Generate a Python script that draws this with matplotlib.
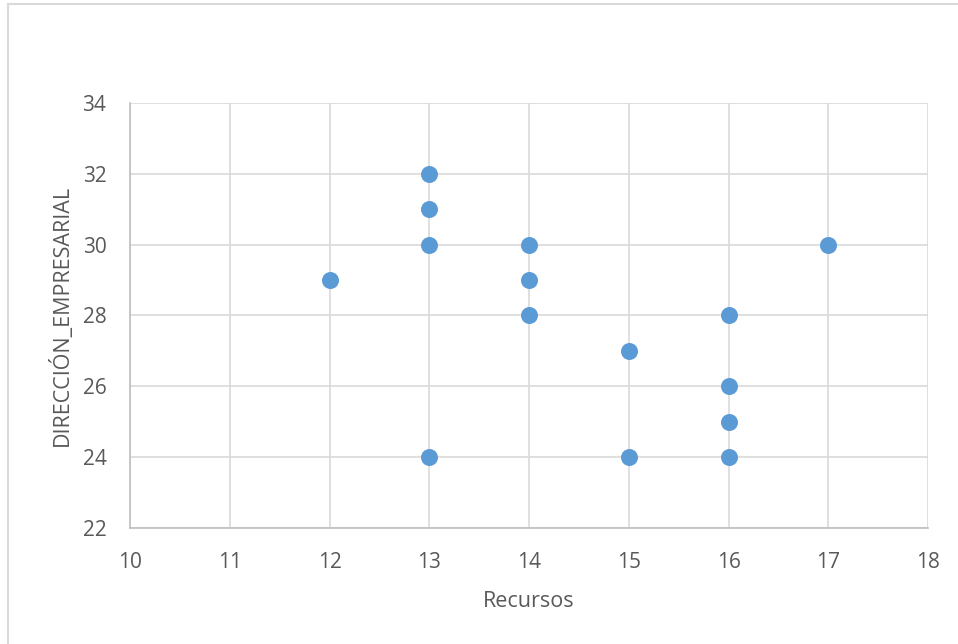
import matplotlib.pyplot as plt
from matplotlib.patches import Rectangle

recursos = [12, 13, 13, 13, 13, 14, 14, 14, 15, 15, 16, 16, 16, 16, 17]
direccion = [29, 32, 31, 30, 24, 30, 29, 28, 27, 24, 28, 26, 25, 24, 30]

x_ticks = [10, 11, 12, 13, 14, 15, 16, 17, 18]
y_ticks = [22, 24, 26, 28, 30, 32, 34]

plt.rcParams["font.family"] = ["Open Sans", "DejaVu Sans"]
text_color = "#595959"

fig = plt.figure(figsize=(9.58, 6.44), dpi=100)
ax = fig.add_axes([0.1357, 0.1801, 0.8330, 0.6600])

# chart area outline (left and top edges visible)
fig.patches.append(Rectangle((8 / 958, -0.1), 1.2, 1 - 4 / 644 + 0.1,
                             transform=fig.transFigure, fill=False,
                             edgecolor="#D9D9D9", linewidth=1.5))

ax.scatter(recursos, direccion, s=150, color="#5B9BD5", zorder=3, linewidths=0)

ax.set_xlim(10, 18)
ax.set_ylim(22, 34)
ax.set_xticks(x_ticks)
ax.set_yticks(y_ticks)
ax.grid(True, color="#D9D9D9", linewidth=1.2)
ax.set_axisbelow(True)

for side in ["top", "right"]:
    ax.spines[side].set_visible(False)
for side in ["left", "bottom"]:
    ax.spines[side].set_color("#BFBFBF")
    ax.spines[side].set_linewidth(1.2)

ax.tick_params(length=0, labelsize=15, colors=text_color)
ax.tick_params(axis="x", pad=17)
ax.tick_params(axis="y", pad=17)

ax.set_xlabel("Recursos", fontsize=15.5, color=text_color, labelpad=13)
ax.set_ylabel("DIRECCIÓN_EMPRESARIAL", fontsize=15.5, color=text_color, labelpad=7)

fig.savefig("out.png", dpi=100)
